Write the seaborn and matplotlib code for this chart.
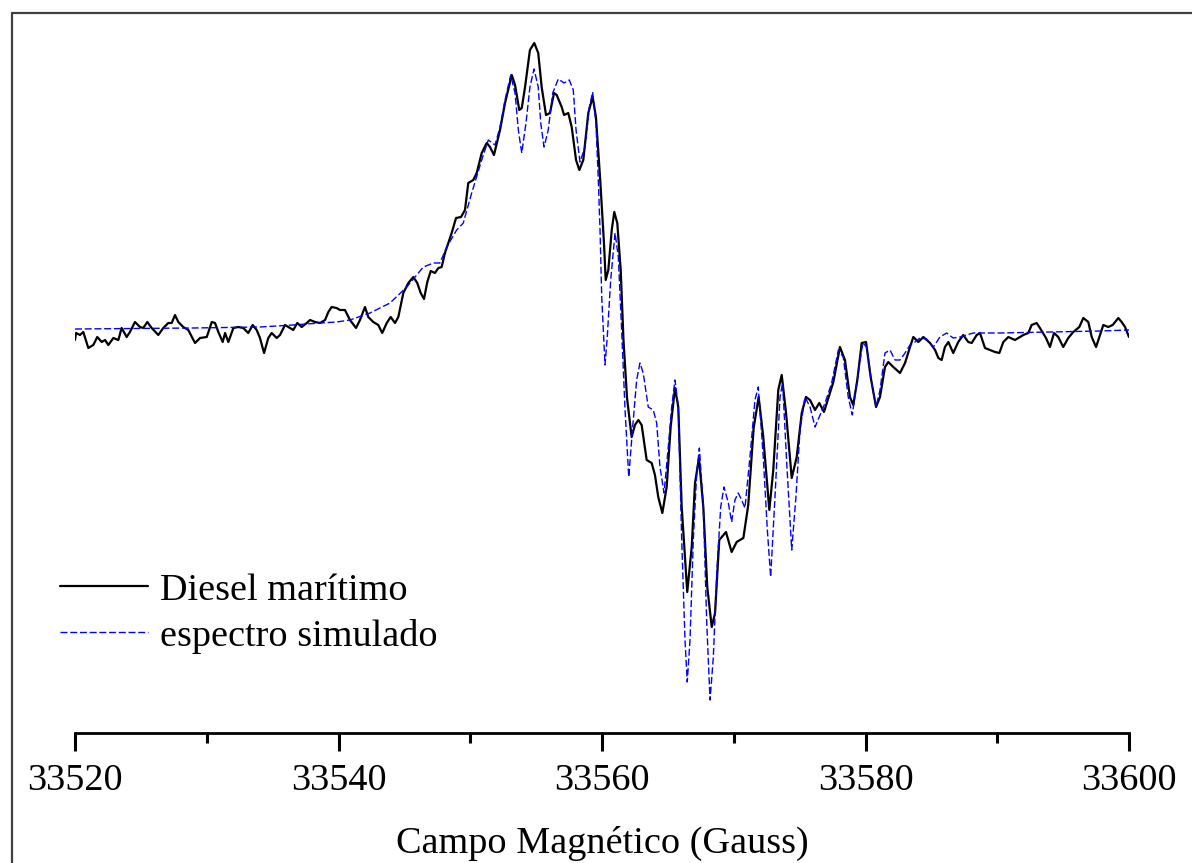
import numpy as np
import pandas as pd
import matplotlib
matplotlib.use("Agg")
import matplotlib.pyplot as plt
from matplotlib.lines import Line2D
import seaborn as sns

# Measured EPR spectrum (field in Gauss, intensity in arbitrary units)
field_exp = [
    33520.00, 33520.08, 33520.38, 33520.63, 33521.01, 33521.39, 33521.69, 33522.03, 33522.28, 33522.53,
    33522.91, 33523.29, 33523.54, 33523.92, 33524.17, 33524.55, 33524.93, 33525.18, 33525.49, 33525.82,
    33526.32, 33526.70, 33527.08, 33527.34, 33527.59, 33527.84, 33528.22, 33528.60, 33529.11, 33529.49,
    33530.00, 33530.38, 33530.63, 33530.88, 33531.21, 33531.39, 33531.64, 33532.02, 33532.39, 33532.77,
    33533.15, 33533.49, 33533.79, 33534.04, 33534.35, 33534.67, 33534.93, 33535.31, 33535.56, 33535.94,
    33536.32, 33536.57, 33536.87, 33537.21, 33537.59, 33537.84, 33538.22, 33538.60, 33538.98, 33539.23,
    33539.48, 33539.86, 33540.11, 33540.49, 33540.87, 33541.33, 33541.63, 33542.01, 33542.26, 33542.64,
    33543.02, 33543.32, 33543.66, 33543.96, 33544.29, 33544.54, 33544.92, 33545.30, 33545.68, 33545.98,
    33546.24, 33546.49, 33546.74, 33547.00, 33547.32, 33547.58, 33547.83, 33548.08, 33548.59, 33548.92,
    33549.30, 33549.60, 33549.85, 33550.23, 33550.49, 33550.87, 33551.25, 33551.50, 33551.80, 33552.26,
    33552.64, 33553.15, 33553.40, 33553.72, 33553.91, 33554.16, 33554.53, 33554.86, 33555.16, 33555.42,
    33555.75, 33556.05, 33556.36, 33556.56, 33556.94, 33557.12, 33557.44, 33557.70, 33558.03, 33558.28,
    33558.58, 33558.96, 33559.29, 33559.54, 33559.85, 33560.15, 33560.28, 33560.48, 33560.74, 33560.93,
    33561.16, 33561.42, 33561.63, 33561.90, 33562.25, 33562.50, 33562.76, 33563.01, 33563.39, 33563.77,
    33564.02, 33564.27, 33564.58, 33564.91, 33565.21, 33565.54, 33565.79, 33566.05, 33566.47, 33566.81,
    33567.06, 33567.36, 33567.69, 33567.99, 33568.33, 33568.58, 33568.90, 33569.41, 33569.84, 33570.22,
    33570.73, 33571.10, 33571.51, 33571.89, 33572.24, 33572.70, 33573.00, 33573.38, 33573.64, 33573.97,
    33574.40, 33574.78, 33575.16, 33575.48, 33575.79, 33576.17, 33576.49, 33576.85, 33577.18, 33577.56,
    33578.06, 33578.44, 33578.82, 33579.07, 33579.38, 33579.71, 33580.04, 33580.39, 33580.80, 33581.10,
    33581.48, 33581.73, 33582.11, 33582.62, 33583.00, 33583.38, 33583.63, 33584.01, 33584.39, 33584.90,
    33585.28, 33585.53, 33585.78, 33586.03, 33586.29, 33586.66, 33587.04, 33587.42, 33587.80, 33588.06,
    33588.44, 33588.69, 33589.07, 33589.45, 33589.83, 33590.16, 33590.46, 33590.84, 33591.35, 33591.73,
    33591.98, 33592.36, 33592.61, 33592.99, 33593.24, 33593.70, 33594.00, 33594.31, 33594.63, 33595.01,
    33595.39, 33595.77, 33596.23, 33596.53, 33596.91, 33597.17, 33597.50, 33597.80, 33598.05, 33598.43,
    33598.76, 33599.19, 33599.44, 33599.70, 33600.00,
]
signal_exp = [
    -0.10, -0.03, -0.05, -0.02, -0.18, -0.15, -0.07, -0.12, -0.10, -0.15,
    -0.08, -0.10, 0.02, -0.07, -0.02, 0.08, 0.03, 0.02, 0.08, 0.02,
    -0.05, 0.02, 0.07, 0.07, 0.15, 0.08, 0.03, 0.00, -0.13, -0.08,
    -0.07, 0.08, 0.07, -0.02, -0.12, -0.03, -0.12, 0.02, 0.03, 0.02,
    -0.03, 0.05, 0.00, -0.08, -0.23, -0.08, -0.03, -0.08, -0.05, 0.05,
    0.02, 0.00, 0.07, 0.03, 0.07, 0.10, 0.08, 0.07, 0.10, 0.18,
    0.23, 0.22, 0.20, 0.20, 0.10, 0.02, 0.10, 0.23, 0.13, 0.08,
    0.05, -0.03, 0.07, 0.13, 0.07, 0.13, 0.37, 0.47, 0.53, 0.47,
    0.37, 0.31, 0.48, 0.59, 0.57, 0.62, 0.63, 0.77, 0.97, 1.12,
    1.13, 1.20, 1.47, 1.50, 1.57, 1.77, 1.87, 1.83, 1.75, 2.00,
    2.27, 2.55, 2.45, 2.20, 2.22, 2.43, 2.80, 2.87, 2.77, 2.43,
    2.15, 2.17, 2.37, 2.35, 2.23, 2.15, 2.17, 2.03, 1.70, 1.60,
    1.70, 2.17, 2.33, 2.13, 1.53, 0.87, 0.50, 0.60, 1.00, 1.18,
    1.07, 0.60, -0.10, -0.68, -1.07, -0.95, -0.90, -0.95, -1.30, -1.33,
    -1.45, -1.67, -1.83, -1.57, -0.97, -0.58, -0.77, -1.77, -2.62, -2.17,
    -1.53, -1.28, -1.77, -2.57, -2.97, -2.83, -2.10, -2.02, -2.22, -2.12,
    -2.08, -1.75, -0.98, -0.67, -1.07, -1.80, -1.40, -0.60, -0.45, -0.83,
    -1.48, -1.27, -0.83, -0.67, -0.70, -0.80, -0.73, -0.82, -0.68, -0.52,
    -0.17, -0.30, -0.67, -0.75, -0.50, -0.13, -0.12, -0.47, -0.77, -0.67,
    -0.37, -0.32, -0.37, -0.43, -0.33, -0.17, -0.07, -0.12, -0.07, -0.13,
    -0.20, -0.28, -0.30, -0.17, -0.12, -0.23, -0.12, -0.05, -0.12, -0.13,
    -0.05, -0.03, -0.18, -0.20, -0.22, -0.23, -0.12, -0.07, -0.10, -0.07,
    -0.05, -0.03, 0.05, 0.07, 0.02, -0.08, -0.17, -0.03, -0.07, -0.17,
    -0.08, -0.02, 0.03, 0.12, 0.08, -0.07, -0.17, -0.05, 0.05, 0.03,
    0.05, 0.12, 0.08, 0.03, -0.07,
]

# Simulated spectrum
field_sim = [
    33520.00, 33528.96, 33534.04, 33536.55, 33538.60, 33539.86, 33540.87, 33542.39, 33543.91, 33545.18,
    33546.44, 33547.20, 33547.70, 33548.21, 33548.97, 33549.47, 33550.11, 33550.87, 33551.37, 33551.88,
    33552.26, 33552.64, 33553.07, 33553.40, 33553.65, 33553.91, 33554.23, 33554.53, 33554.84, 33555.16,
    33555.35, 33555.60, 33555.92, 33556.26, 33556.68, 33557.12, 33557.52, 33557.82, 33558.03, 33558.33,
    33558.71, 33559.04, 33559.29, 33559.54, 33559.72, 33559.85, 33559.98, 33560.23, 33560.40, 33560.66,
    33560.99, 33561.24, 33561.49, 33561.75, 33562.03, 33562.31, 33562.63, 33562.88, 33563.13, 33563.51,
    33563.89, 33564.15, 33564.40, 33564.71, 33565.03, 33565.29, 33565.54, 33565.79, 33566.05, 33566.30,
    33566.47, 33566.68, 33566.93, 33567.19, 33567.39, 33567.69, 33567.95, 33568.20, 33568.45, 33568.71,
    33569.01, 33569.26, 33569.59, 33569.84, 33570.09, 33570.34, 33570.60, 33570.85, 33571.23, 33571.61,
    33571.86, 33572.24, 33572.55, 33572.80, 33573.13, 33573.51, 33573.71, 33574.02, 33574.40, 33574.72,
    33575.03, 33575.41, 33575.79, 33576.17, 33576.49, 33576.93, 33577.43, 33577.94, 33578.31, 33578.69,
    33579.00, 33579.33, 33579.79, 33580.09, 33580.47, 33580.80, 33581.10, 33581.48, 33581.86, 33582.24,
    33582.62, 33583.00, 33583.38, 33583.76, 33584.14, 33584.64, 33585.15, 33585.65, 33586.16, 33586.66,
    33587.17, 33588.18, 33590.21, 33594.00, 33597.80, 33600.00,
]
signal_sim = [
    0.01, 0.02, 0.03, 0.05, 0.07, 0.08, 0.10, 0.17, 0.27, 0.43,
    0.63, 0.67, 0.67, 0.83, 1.00, 1.07, 1.37, 1.70, 1.90, 1.85,
    2.03, 2.30, 2.55, 2.37, 2.00, 1.77, 2.07, 2.43, 2.61, 2.43,
    2.07, 1.83, 2.00, 2.37, 2.51, 2.47, 2.50, 2.40, 2.00, 1.68,
    1.83, 2.23, 2.38, 2.07, 1.50, 1.00, 0.33, -0.35, -0.07, 0.50,
    0.97, 0.73, 0.00, -0.80, -1.47, -1.00, -0.50, -0.33, -0.43, -0.77,
    -0.80, -0.93, -1.37, -1.63, -1.17, -0.77, -0.50, -0.77, -2.10, -3.10,
    -3.52, -3.10, -2.10, -1.43, -1.18, -1.77, -2.93, -3.70, -3.27, -2.43,
    -1.77, -1.57, -1.73, -1.92, -1.70, -1.63, -1.70, -1.78, -1.27, -0.70,
    -0.57, -1.27, -2.00, -2.47, -1.67, -0.67, -0.53, -1.33, -2.20, -1.67,
    -1.00, -0.67, -0.77, -0.97, -0.87, -0.73, -0.53, -0.20, -0.27, -0.67,
    -0.85, -0.53, -0.13, -0.17, -0.53, -0.77, -0.60, -0.23, -0.20, -0.30,
    -0.30, -0.23, -0.15, -0.12, -0.08, -0.09, -0.17, -0.07, -0.03, -0.08,
    -0.07, -0.03, -0.03, -0.02, -0.01, 0.00,
]

series_labels = ["Diesel marítimo", "espectro simulado"]
x_ticks = [33520, 33540, 33560, 33580, 33600]
x_minor_ticks = [33530, 33550, 33570, 33590]
x_label = "Campo Magnético (Gauss)"

sns.set_style("white")
plt.rcParams["font.family"] = ["Liberation Serif", "DejaVu Serif"]
plt.rcParams["font.size"] = 27.5
plt.rcParams["text.color"] = "black"
plt.rcParams["axes.labelcolor"] = "black"
plt.rcParams["xtick.color"] = "black"
plt.rcParams["xtick.bottom"] = True

fig = plt.figure(figsize=(11.92, 8.63), dpi=100)
ax = fig.add_axes([75 / 1192, 130 / 863, 1054 / 1192, 703 / 863])

exp_df = pd.DataFrame({"field": field_exp, "signal": signal_exp})
sim_df = pd.DataFrame({"field": field_sim, "signal": signal_sim})

sns.lineplot(data=exp_df, x="field", y="signal", ax=ax, color="black",
             linewidth=1.6, estimator=None, sort=False, label=series_labels[0])
sns.lineplot(data=sim_df, x="field", y="signal", ax=ax, color="#0000ff",
             linewidth=1.0, linestyle=(0, (5, 2)), estimator=None, sort=False,
             label=series_labels[1])

ax.set_xlim(33520, 33600)
ax.set_ylim(-4.03, 3.00)

for side in ("left", "top", "right"):
    ax.spines[side].set_visible(False)
ax.spines["bottom"].set_color("black")
ax.spines["bottom"].set_linewidth(2.0)

ax.set_xticks(x_ticks)
ax.set_xticks(x_minor_ticks, minor=True)
ax.set_xticklabels([str(t) for t in x_ticks])
ax.set_yticks([])
ax.tick_params(axis="x", which="major", direction="out", length=13, width=2.2,
               color="black", bottom=True, pad=9, labelsize=27.5,
               labelcolor="black")
ax.tick_params(axis="x", which="minor", direction="out", length=7, width=2.2,
               color="black", bottom=True)
ax.set_xlabel(x_label, fontsize=27.5, labelpad=20, color="black")
ax.set_ylabel("")
ax.set_facecolor("white")

leg = ax.legend(loc="upper left", bbox_to_anchor=(60 / 1192, 1 - 573 / 863),
                bbox_transform=fig.transFigure, frameon=False, fontsize=27.5,
                handlelength=2.3, handletextpad=0.32, labelspacing=0.29,
                borderpad=0, borderaxespad=0)
for txt in leg.get_texts():
    txt.set_color("black")

# Outer frame of the figure
frame_kw = dict(color="#404040", linewidth=1.6, transform=fig.transFigure)
fig.add_artist(Line2D([11.5 / 1192, 11.5 / 1192], [0, 1 - 13 / 863], **frame_kw))
fig.add_artist(Line2D([11.5 / 1192, 1], [1 - 13 / 863, 1 - 13 / 863], **frame_kw))

fig.savefig("out.png", dpi=100, facecolor="white")
